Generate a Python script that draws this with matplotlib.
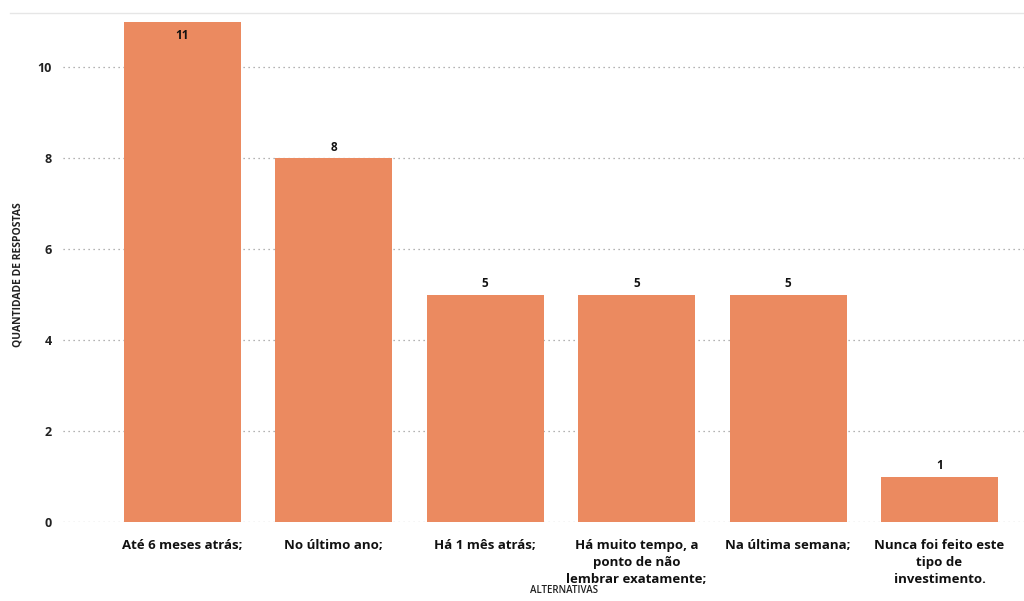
import matplotlib
matplotlib.use("Agg")
import matplotlib.pyplot as plt
from matplotlib.lines import Line2D

categories = ["Até 6 meses atrás;", "No último ano;", "Há 1 mês atrás;",
              "Há muito tempo, a\nponto de não\nlembrar exatamente;",
              "Na última semana;", "Nunca foi feito este\ntipo de\ninvestimento."]
values = [11, 8, 5, 5, 5, 1]
yticks = [0, 2, 4, 6, 8, 10]

plt.rcParams['font.family'] = ['Open Sans', 'DejaVu Sans']

fig = plt.figure(figsize=(10.24, 6.01), dpi=100)
ax = fig.add_axes([0.0615, 0.1314, 0.9385, 0.8476])

bar_color = "#EB8A60"
x = list(range(len(categories)))
bars = ax.bar(x, values, width=0.773, color=bar_color, zorder=3)

ax.set_xlim(-0.789, 5.558)
ax.set_ylim(0, 11.2)
ax.set_yticks(yticks)
ax.set_yticklabels([str(t) for t in yticks], fontsize=9, fontweight='bold', color='#222222')
ax.set_xticks(x)
ax.set_xticklabels(categories, fontsize=9.5, fontweight='bold', color='#111111', linespacing=1.4, va='top')
ax.tick_params(axis='both', length=0)
ax.tick_params(axis='x', pad=12)
ax.tick_params(axis='y', pad=8)

for t in yticks:
    ax.axhline(t, color='#9a9a9a', linestyle=(0, (1, 3)), linewidth=0.9, zorder=1)

for s in ['left', 'right', 'bottom', 'top']:
    ax.spines[s].set_visible(False)
fig.add_artist(Line2D([0.01, 1.0], [0.979, 0.979], color='#e6e6e6', linewidth=1.0, transform=fig.transFigure))

for xi, v in zip(x, values):
    if v == max(values):
        ax.text(xi, v - 0.15, str(v), ha='center', va='top', fontsize=8.5, fontweight='bold', color='#111111', zorder=4)
    else:
        ax.text(xi, v + 0.1, str(v), ha='center', va='bottom', fontsize=8.5, fontweight='bold', color='#111111', zorder=4)

fig.text(0.551, 0.008, "ALTERNATIVAS", ha='center', va='bottom', fontsize=7, color='#222222', fontweight='semibold')
fig.text(0.018, 0.543, "QUANTIDADE DE RESPOSTAS", ha='center', va='center', rotation=90, fontsize=7.5, fontweight='bold', color='#222222')

fig.savefig("out.png", dpi=100)
